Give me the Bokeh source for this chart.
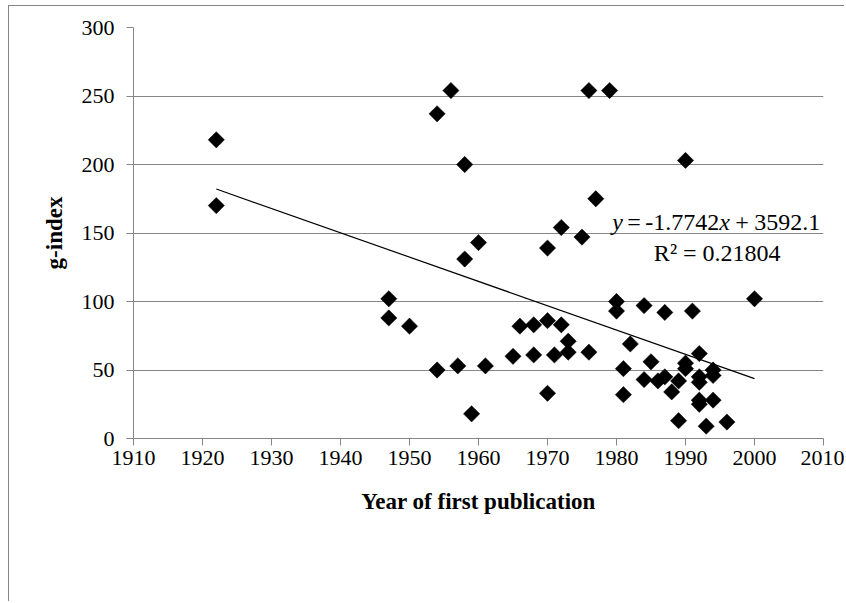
import math
from bokeh.plotting import figure
from bokeh.models import Range1d, Label, FixedTicker
from bokeh.embed import file_html
from bokeh.resources import INLINE

# ---- data ----
years = [1922, 1922, 1947, 1947, 1950, 1954, 1954, 1956, 1957, 1958, 1958,
         1959, 1960, 1961, 1965, 1966, 1968, 1968, 1970, 1970, 1970, 1971,
         1972, 1972, 1973, 1973, 1975, 1976, 1976, 1977, 1979, 1980, 1980,
         1981, 1981, 1982, 1984, 1984, 1985, 1986, 1987, 1987, 1988, 1989,
         1989, 1990, 1990, 1990, 1991, 1992, 1992, 1992, 1992, 1992, 1993,
         1994, 1994, 1994, 1996, 2000]
g_index = [218, 170, 102, 88, 82, 237, 50, 254, 53, 200, 131,
           18, 143, 53, 60, 82, 83, 61, 139, 86, 33, 61,
           154, 83, 71, 63, 147, 254, 63, 175, 254, 100, 93,
           51, 32, 69, 97, 43, 56, 42, 92, 45, 34, 42,
           13, 203, 55, 51, 93, 62, 45, 41, 28, 25, 9,
           50, 46, 28, 12, 102]

x_ticks = [1910, 1920, 1930, 1940, 1950, 1960, 1970, 1980, 1990, 2000, 2010]
y_ticks = [0, 50, 100, 150, 200, 250, 300]

trend_slope = -1.7742
trend_intercept = 3592.1
trend_r2 = 0.21804
trend_x = [1922, 2000]
trend_y = [trend_slope * x + trend_intercept for x in trend_x]

FONT = "Liberation Serif"
GRAY = "#868686"

p = figure(width=836, height=596,
           x_range=Range1d(1910, 2010), y_range=Range1d(0, 300),
           output_backend="svg", toolbar_location=None,
           min_border_left=124, min_border_right=22,
           min_border_top=21, min_border_bottom=164)
p.styles = {"margin-left": "8px", "margin-top": "5px",
            "border-left": "1px solid #868686", "border-top": "1px solid #868686"}
p.outline_line_color = None
p.background_fill_color = "white"
p.border_fill_color = "white"

# axes
p.xaxis.ticker = FixedTicker(ticks=x_ticks)
p.yaxis.ticker = FixedTicker(ticks=y_ticks)
for ax in (p.xaxis, p.yaxis):
    ax.axis_line_color = GRAY
    ax.major_tick_line_color = GRAY
    ax.major_tick_in = 0
    ax.major_tick_out = 7
    ax.minor_tick_line_color = None
    ax.major_label_text_font = FONT
    ax.major_label_text_font_size = "22px"
    ax.major_label_text_color = "black"
    ax.axis_label_text_font = FONT
    ax.axis_label_text_font_size = "23px"
    ax.axis_label_text_font_style = "bold"
    ax.axis_label_text_color = "black"

p.xaxis.axis_label = "Year of first publication"
p.yaxis.axis_label = "g-index"
p.xaxis.major_label_standoff = 5
p.xaxis.axis_label_standoff = 21
p.yaxis.major_label_standoff = 12
p.yaxis.axis_label_standoff = 12

# grid
p.xgrid.visible = False
p.ygrid.ticker = FixedTicker(ticks=y_ticks)
p.ygrid.grid_line_color = GRAY
p.ygrid.grid_line_width = 1

# points (diamonds)
p.scatter(years, g_index, marker="square", size=11.5, angle=math.pi / 4,
          fill_color="black", line_color="black", line_width=0.5)

# trendline
p.line(trend_x, trend_y, line_color="black", line_width=1.2)

# equation label (tokens placed one by one so the italic letters stay italic)
eq_x, eq_y = 1979.4, 157.9
pieces = [("y", "italic", 0), ("=", "normal", 15), ("-1.7742", "normal", 33),
          ("x", "italic", 107), ("+", "normal", 123), ("3592.1", "normal", 142)]
for txt, style, off in pieces:
    p.add_layout(Label(x=eq_x, y=eq_y, x_offset=off, text=txt,
                       text_font=FONT, text_font_size="24px",
                       text_font_style=style, text_color="black",
                       text_baseline="middle", text_align="left"))
p.add_layout(Label(x=1994.6, y=135.3, text="R\u00b2 = %.5f" % trend_r2,
                   text_font=FONT, text_font_size="24px", text_color="black",
                   text_baseline="middle", text_align="center"))

open("out.html", "w").write(file_html(p, INLINE))
